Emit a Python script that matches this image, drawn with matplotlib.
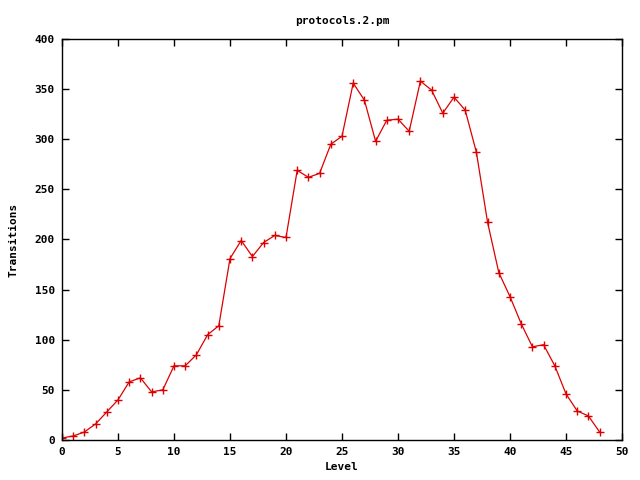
import matplotlib
matplotlib.use("Agg")
import matplotlib.pyplot as plt

levels = list(range(49))
transitions = [2, 4, 8, 16, 28, 40, 58, 62, 48, 50,
               74, 74, 85, 105, 114, 181, 199, 183, 197, 204,
               202, 269, 262, 266, 295, 303, 356, 339, 298, 319,
               320, 308, 358, 349, 326, 342, 329, 287, 217, 167,
               143, 116, 93, 95, 74, 46, 29, 24, 8]
x_ticks = list(range(0, 51, 5))
y_ticks = list(range(0, 401, 50))

plt.rcParams['font.family'] = ['DejaVu Sans Mono']
fig = plt.figure(figsize=(6.4, 4.8), dpi=100)
ax = fig.add_axes([62/640, 40/480, 560/640, 401/480])
ax.plot(levels, transitions, color='#dd0000', lw=0.9, marker='+', markersize=6, mew=1.0)
ax.set_xlim(0, 50)
ax.set_ylim(0, 400)
ax.set_xticks(x_ticks)
ax.set_yticks(y_ticks)
ax.tick_params(direction='in', top=True, right=True, length=5, width=1, labelsize=8, pad=5)
for lab in ax.get_xticklabels() + ax.get_yticklabels():
    lab.set_fontweight('bold')
for s in ax.spines.values():
    s.set_linewidth(1)
ax.set_xlabel('Level', fontsize=8, fontweight='bold', labelpad=4)
ax.set_ylabel('Transitions', fontsize=8, fontweight='bold', labelpad=12)
ax.set_title('protocols.2.pm', fontsize=8, fontweight='bold', pad=11)
fig.savefig('out.png', dpi=100)
